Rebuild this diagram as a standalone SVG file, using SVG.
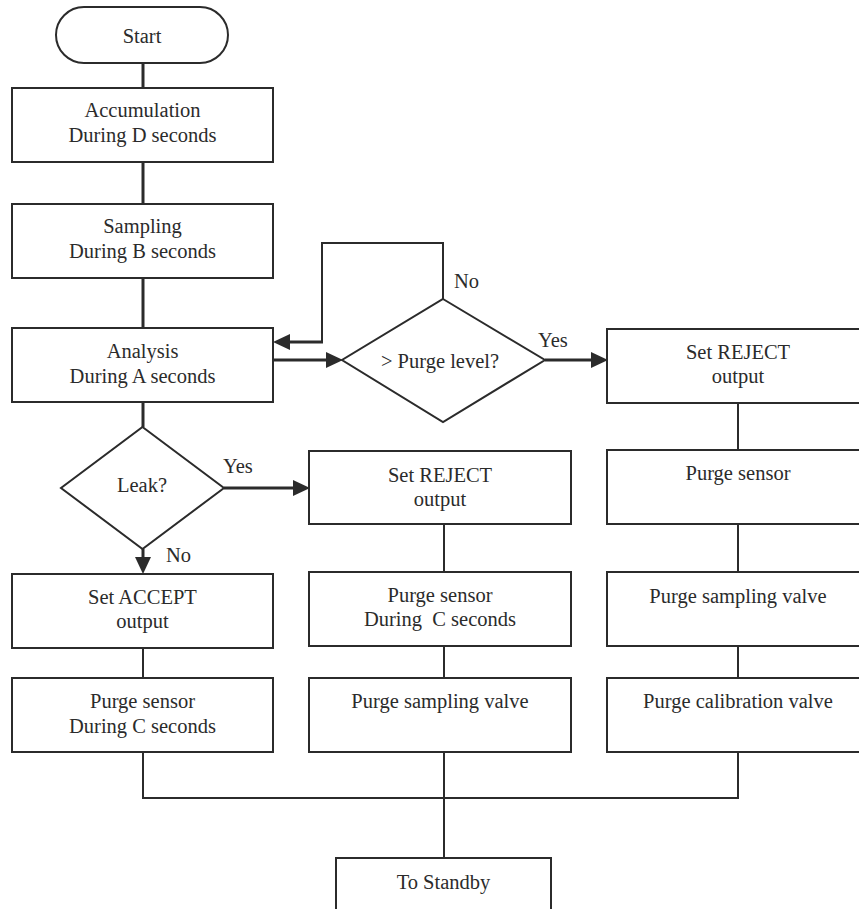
<svg xmlns="http://www.w3.org/2000/svg" width="859" height="909" viewBox="0 0 859 909">
<style>
  .box { fill: #ffffff; stroke: #2b2b2b; stroke-width: 2; }
  .t { font-family: "Liberation Serif", "Times New Roman", serif; font-size: 20.5px; fill: #2b2b2b; text-anchor: middle; }
  .lbl { font-family: "Liberation Serif", "Times New Roman", serif; font-size: 20.5px; fill: #2b2b2b; text-anchor: start; }
  .thick { fill: none; stroke: #2b2b2b; stroke-width: 3; }
  .thin { fill: none; stroke: #2b2b2b; stroke-width: 2; }
  .arr { marker-end: url(#ah); }
</style>
<defs>
  <marker id="ah" markerUnits="userSpaceOnUse" markerWidth="18" markerHeight="18" refX="8" refY="8" orient="auto">
    <path d="M0,0 L17,8 L0,16 Z" fill="#2b2b2b"/>
  </marker>
</defs>
<rect width="859" height="909" fill="#ffffff"/>

<g id="connectors">
  <line class="thick" x1="143" y1="63" x2="143" y2="88"/>
  <line class="thick" x1="143" y1="162" x2="143" y2="204"/>
  <line class="thick" x1="143" y1="278" x2="143" y2="328"/>
  <line class="thick" x1="143" y1="402" x2="143" y2="427"/>
  <line class="thick arr" x1="143" y1="549" x2="143" y2="565"/>
  <line class="thick arr" x1="224" y1="488" x2="301" y2="488"/>
  <line class="thick arr" x1="273" y1="360" x2="334" y2="360"/>
  <polyline class="thin" points="443,299 443,243 322,243 322,342"/>
  <line class="thick arr" x1="323" y1="342" x2="282" y2="342"/>
  <line class="thick arr" x1="545" y1="360" x2="599" y2="360"/>
  <line class="thin" x1="738" y1="403" x2="738" y2="450"/>
  <line class="thin" x1="738" y1="524" x2="738" y2="572"/>
  <line class="thin" x1="738" y1="646" x2="738" y2="678"/>
  <line class="thin" x1="444" y1="524" x2="444" y2="572"/>
  <line class="thin" x1="444" y1="646" x2="444" y2="678"/>
  <line class="thin" x1="143" y1="648" x2="143" y2="678"/>
  <polyline class="thin" points="143,752 143,798 738,798 738,752"/>
  <line class="thin" x1="444" y1="752" x2="444" y2="858"/>
</g>

<g id="start">
  <rect class="box" x="56" y="7" width="172" height="56" rx="28" ry="28"/>
  <text class="t" x="142" y="43">Start</text>
</g>
<g id="accumulation">
  <rect class="box" x="12" y="88" width="261" height="74"/>
  <text class="t" x="142.5" y="117">Accumulation</text>
  <text class="t" x="142.5" y="142">During D seconds</text>
</g>
<g id="sampling">
  <rect class="box" x="12" y="204" width="261" height="74"/>
  <text class="t" x="142.5" y="233">Sampling</text>
  <text class="t" x="142.5" y="258">During B seconds</text>
</g>
<g id="analysis">
  <rect class="box" x="12" y="328" width="261" height="74"/>
  <text class="t" x="142.5" y="358">Analysis</text>
  <text class="t" x="142.5" y="383">During A seconds</text>
</g>
<g id="purge-level">
  <polygon class="box" points="443,299 545,360 443,422 342,360"/>
  <text class="t" x="440" y="368">&gt; Purge level?</text>
  <text class="lbl" x="454" y="288">No</text>
  <text class="lbl" x="538" y="347">Yes</text>
</g>
<g id="leak">
  <polygon class="box" points="142.5,427 224,488 142.5,549 61,488"/>
  <text class="t" x="142" y="492">Leak?</text>
  <text class="lbl" x="223" y="473">Yes</text>
  <text class="lbl" x="166" y="562">No</text>
</g>
<g id="set-accept">
  <rect class="box" x="12" y="574" width="261" height="74"/>
  <text class="t" x="142.5" y="604">Set ACCEPT</text>
  <text class="t" x="142.5" y="628">output</text>
</g>
<g id="purge-sensor-left">
  <rect class="box" x="12" y="678" width="261" height="74"/>
  <text class="t" x="142.5" y="708">Purge sensor</text>
  <text class="t" x="142.5" y="733">During C seconds</text>
</g>
<g id="set-reject-mid">
  <rect class="box" x="309" y="451" width="262" height="73"/>
  <text class="t" x="440" y="482">Set REJECT</text>
  <text class="t" x="440" y="506">output</text>
</g>
<g id="purge-sensor-mid">
  <rect class="box" x="309" y="572" width="262" height="74"/>
  <text class="t" x="440" y="602">Purge sensor</text>
  <text class="t" x="440" y="626" xml:space="preserve" style="white-space:pre">During  C seconds</text>
</g>
<g id="purge-sampling-mid">
  <rect class="box" x="309" y="678" width="262" height="74"/>
  <text class="t" x="440" y="708">Purge sampling valve</text>
</g>
<g id="set-reject-right">
  <rect class="box" x="607" y="329" width="262" height="74"/>
  <text class="t" x="738" y="359">Set REJECT</text>
  <text class="t" x="738" y="383">output</text>
</g>
<g id="purge-sensor-right">
  <rect class="box" x="607" y="450" width="262" height="74"/>
  <text class="t" x="738" y="480">Purge sensor</text>
</g>
<g id="purge-sampling-right">
  <rect class="box" x="607" y="572" width="262" height="74"/>
  <text class="t" x="738" y="603">Purge sampling valve</text>
</g>
<g id="purge-calibration-right">
  <rect class="box" x="607" y="678" width="262" height="74"/>
  <text class="t" x="738" y="708">Purge calibration valve</text>
</g>
<g id="to-standby">
  <rect class="box" x="336" y="858" width="215" height="80"/>
  <text class="t" x="443.5" y="889">To Standby</text>
</g>
</svg>
